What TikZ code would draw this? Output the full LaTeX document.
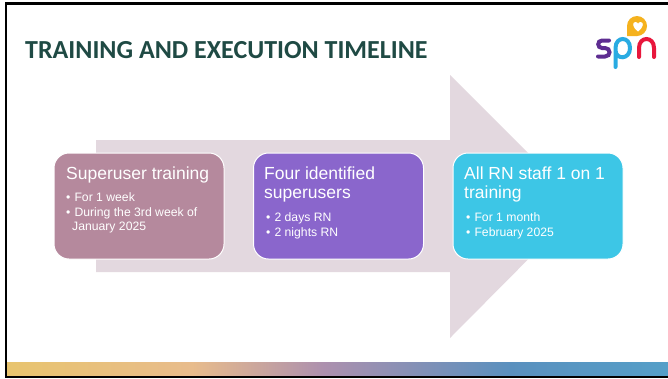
\documentclass[tikz,border=0pt]{standalone}
\usepackage{fontspec}
\setmainfont{Carlito}
\newfontfamily\boxfont{Liberation Sans}
\usetikzlibrary{calc, shapes}
\definecolor{titlegreen}{HTML}{1F4A44}
\definecolor{arrowpink}{HTML}{E3D8DF}
\definecolor{boxmauve}{HTML}{B5899D}
\definecolor{boxpurple}{HTML}{8A66CC}
\definecolor{boxcyan}{HTML}{3DC6E6}
\definecolor{logoorange}{HTML}{F5B21E}
\definecolor{logopurple}{HTML}{5E2D91}
\definecolor{logoblue}{HTML}{29ABE2}
\definecolor{logored}{HTML}{E8173C}
\definecolor{foota}{HTML}{E8C46E}
\definecolor{footb}{HTML}{E8BC8C}
\definecolor{footc}{HTML}{AC90AE}
\definecolor{footd}{HTML}{5A90BE}
\definecolor{foote}{HTML}{559FC8}
\pgfdeclarehorizontalshading{footshade}{100bp}{
  color(0bp)=(foota);
  color(25bp)=(foota);
  color(39bp)=(footb);
  color(49bp)=(footc);
  color(63bp)=(footd);
  color(75bp)=(foote);
  color(100bp)=(foote)}
\begin{document}
\begin{tikzpicture}[x=1pt,y=-1pt]
\tikzstyle{card}=[draw=white,line width=1pt,rounded corners=15pt,minimum width=170pt,minimum height=106pt,inner sep=0pt]
\tikzstyle{cardhead}=[text=white,anchor=north west,inner sep=0pt,align=left,font=\boxfont\fontsize{17.5}{19}\selectfont]
\tikzstyle{cardlist}=[text=white,anchor=north west,inner sep=0pt,align=left,font=\boxfont\fontsize{12.2}{14.6}\selectfont]
\tikzstyle{cardlistb}=[cardlist,font=\boxfont\fontsize{12.2}{15.8}\selectfont]
\tikzstyle{logostroke}=[line width=4pt,line cap=round]
\useasboundingbox (0,0) rectangle (668,378);
\fill[white] (0,0) rectangle (668,378);
% footer and frame
\shade[shading=footshade] (7,362) rectangle (668,376);
\fill[black] (4.5,2) rectangle (668,4.5);
\fill[black] (4.5,2) rectangle (7,378);
\fill[black] (4.5,376) rectangle (668,378);
\node[anchor=west,inner sep=0pt,text=titlegreen,font=\bfseries\fontsize{26}{28}\selectfont] (title) at (25,50) {TRAINING AND EXECUTION TIMELINE};
% big arrow
\fill[arrowpink] (96,140) -- (450,140) -- (450,75) -- (581,206) -- (450,338) -- (450,272) -- (96,272) -- cycle;
% cards
\node[card,fill=boxmauve] (B_1) at (139,206) {};
\node[card,fill=boxpurple] (B_2) at (338.5,206) {};
\node[card,fill=boxcyan] (B_3) at (538,206) {};
\node[cardhead] (H_1) at (66,167) {Superuser training};
\node[cardlist] (L_1) at (66,192.5) {\textbullet\,\,For 1 week\\\textbullet\,\,During the 3rd week of\\\hspace*{6pt}January 2025};
\node[cardhead] (H_2) at (264,167) {Four identified\\superusers};
\node[cardlistb] (L_2) at (266,212) {\textbullet\,\,2 days RN\\\textbullet\,\,2 nights RN};
\node[cardhead] (H_3) at (464,167) {All RN staff 1 on 1\\training};
\node[cardlistb] (L_3) at (466,212) {\textbullet\,\,For 1 month\\\textbullet\,\,February 2025};
% logo
\fill[logoorange] (637,26) circle (10);
\fill[logoorange] (627,26) -- (627,36) -- (637,36) -- cycle;
\fill[white] (638,31.5) .. controls (632,27) and (632,22) .. (635.5,22) .. controls (637,22) and (638,23) .. (638,24) .. controls (638,23) and (639,22) .. (640.5,22) .. controls (644,22) and (644,27) .. (638,31.5) -- cycle;
\draw[logostroke,logopurple] (609,40.5) -- (602,40.5) .. controls (597,40.5) and (597,48) .. (602,48) -- (605,48) .. controls (611,48) and (611,56.5) .. (605,56.5) -- (598,56.5);
\draw[logostroke,logoblue] (615.5,67) -- (615.5,48) .. controls (615.5,36) and (630,36) .. (630,48) .. controls (630,60) and (615.5,60) .. (615.5,50);
\draw[logostroke,logored] (639,57) -- (639,48) .. controls (639,36) and (654,36) .. (654,48) -- (654,57);
\end{tikzpicture}
\end{document}
